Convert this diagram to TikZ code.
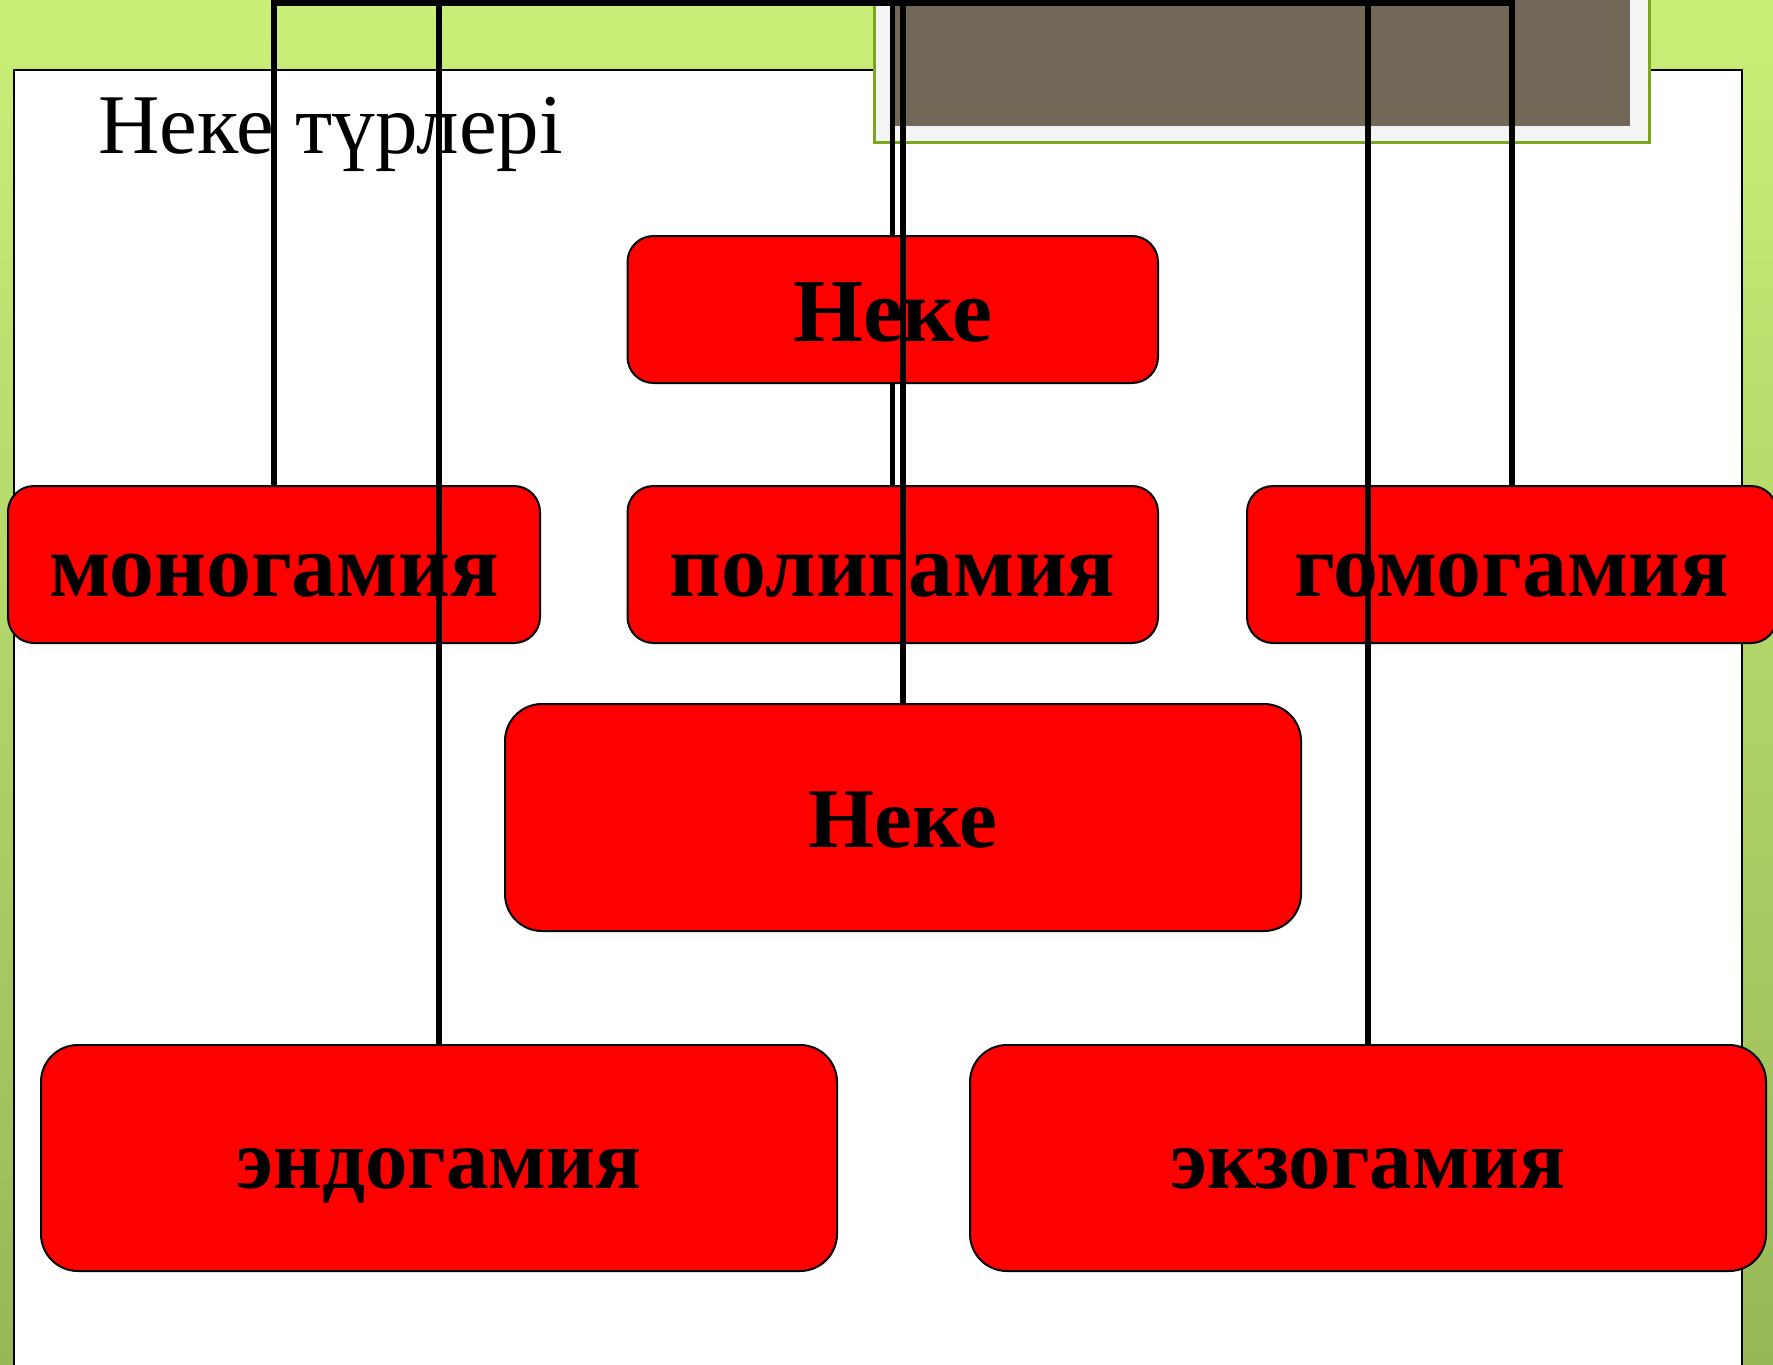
\documentclass[tikz,border=0pt]{standalone}
\usepackage{fontspec}
\setmainfont{Liberation Serif}
\definecolor{limeTop}{HTML}{C9EF78}
\definecolor{limeBot}{HTML}{98B858}
\definecolor{frameGray}{HTML}{716858}
\definecolor{frameLight}{HTML}{F4F4F4}
\definecolor{frameGreen}{HTML}{7BA61E}
\pgfdeclarelayer{bg}
\pgfdeclarelayer{mid}
\pgfsetlayers{bg,mid,main}
\tikzset{
  redbox/.style={draw=black, line width=1pt, fill=red, rounded corners=13pt,
    font=\fontsize{45}{54}\selectfont\bfseries, text height=39pt, text depth=7pt, inner sep=0pt},
  bigbox/.style={redbox, rounded corners=18.5pt, font=\fontsize{42.5}{51}\selectfont\bfseries,
    text height=37pt, text depth=7pt},
  conn/.style={draw=black, line width=2.6pt},
}
\begin{document}
\begin{tikzpicture}[x=0.5pt,y=-0.5pt]
\useasboundingbox (0,0) rectangle (1773,1365);
\begin{pgfonlayer}{bg}
  \shade[top color=limeTop, bottom color=limeBot] (0,0) rectangle (1773,1365);
  \draw[fill=white, line width=1pt] (13.5,69.5) rectangle (1742,1400);
  \fill[frameLight] (874,-10) rectangle (1649,142);
  \draw[frameGreen, line width=1.5pt] (874,-10) -- (874,142) -- (1649,142) -- (1649,-10);
  \fill[frameGray] (894,-10) rectangle (1630,126);
\end{pgfonlayer}

\node[anchor=base west, inner sep=0pt, font=\fontsize{42.5}{50}\selectfont] (title) at (98,153) {Неке түрлері};

\node[redbox, minimum width=265.25pt, minimum height=73.5pt] (neke1) at (892.75,309.5) {Неке};
\node[redbox, minimum width=266pt, minimum height=78.5pt] (mono) at (274,564.5) {моногамия};
\node[redbox, minimum width=265.25pt, minimum height=78.5pt] (poly) at (892.75,564.5) {полигамия};
\node[redbox, minimum width=265pt, minimum height=78.5pt] (gomo) at (1512,564.5) {гомогамия};
\node[bigbox, minimum width=398pt, minimum height=113.5pt] (neke2) at (903,817.5) {Неке};
\node[bigbox, minimum width=398pt, minimum height=113pt] (endo) at (439,1158) {эндогамия};
\node[bigbox, minimum width=398pt, minimum height=113pt] (exo) at (1368,1158) {экзогамия};

\coordinate (hub) at (0,3);
\coordinate (top) at (0,-10);
\begin{pgfonlayer}{mid}
  \draw[conn] (mono.north) -- (mono.north |- hub) -- (gomo.north |- hub) -- (gomo.north);
  \draw[conn] (poly.north |- top) -- (poly.north);
\end{pgfonlayer}
\draw[conn] (endo.north |- top) -- (endo.north);
\draw[conn] (neke2.north |- top) -- (neke2.north);
\draw[conn] (exo.north |- top) -- (exo.north);
\end{tikzpicture}
\end{document}
